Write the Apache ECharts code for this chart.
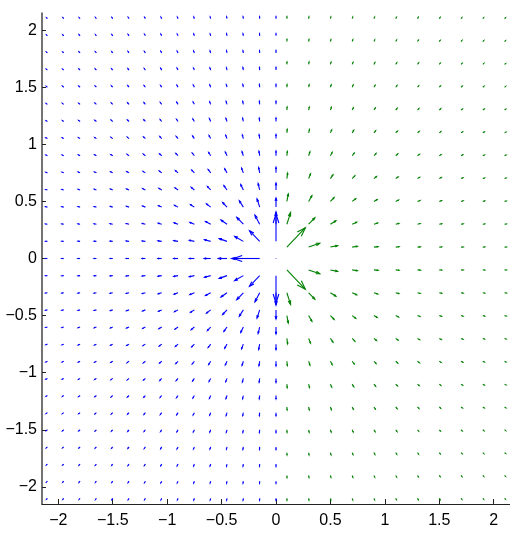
<!DOCTYPE html>
<html><head><meta charset="utf-8">
<script src="https://cdn.jsdelivr.net/npm/echarts@6/dist/echarts.min.js"></script>
<style>html,body{margin:0;padding:0;background:#fff}#c{width:510px;height:533px}</style>
</head><body><div id="c"></div>
<script>
// Tick labels
const xTicks = [-2, -1.5, -1, -0.5, 0, 0.5, 1, 1.5, 2];
const yTicks = [-2, -1.5, -1, -0.5, 0, 0.5, 1, 1.5, 2];

// Blue field: grid positions
const blueX = [-2.1,-1.95,-1.8,-1.65,-1.5,-1.35,-1.2,-1.05,-0.9,-0.75,-0.6,-0.45,-0.3,-0.15,0];
const blueY = [2.1,1.95,1.8,1.65,1.5,1.35,1.2,1.05,0.9,0.75,0.6,0.45,0.3,0.15,0,
  -0.15,-0.3,-0.45,-0.6,-0.75,-0.9,-1.05,-1.2,-1.35,-1.5,-1.65,-1.8,-1.95,-2.1];
// Blue field: x components (rows follow blueY, columns follow blueX)
const blueU = [
[-0.24,-0.24,-0.24,-0.23,-0.23,-0.22,-0.21,-0.19,-0.17,-0.15,-0.13,-0.10,-0.07,-0.03,0],
[-0.26,-0.26,-0.26,-0.25,-0.25,-0.24,-0.23,-0.21,-0.20,-0.17,-0.14,-0.11,-0.08,-0.04,0],
[-0.27,-0.28,-0.28,-0.28,-0.27,-0.27,-0.26,-0.24,-0.22,-0.20,-0.17,-0.13,-0.09,-0.05,0],
[-0.29,-0.30,-0.30,-0.30,-0.30,-0.30,-0.29,-0.27,-0.25,-0.23,-0.19,-0.15,-0.11,-0.05,0],
[-0.32,-0.32,-0.33,-0.33,-0.33,-0.33,-0.33,-0.31,-0.29,-0.27,-0.23,-0.18,-0.13,-0.07,0],
[-0.34,-0.35,-0.36,-0.36,-0.37,-0.37,-0.37,-0.36,-0.34,-0.31,-0.27,-0.22,-0.16,-0.08,0],
[-0.36,-0.37,-0.38,-0.40,-0.41,-0.41,-0.42,-0.41,-0.40,-0.37,-0.33,-0.27,-0.20,-0.10,0],
[-0.38,-0.40,-0.41,-0.43,-0.45,-0.46,-0.47,-0.48,-0.47,-0.45,-0.41,-0.34,-0.25,-0.13,0],
[-0.40,-0.42,-0.44,-0.47,-0.49,-0.51,-0.53,-0.55,-0.56,-0.55,-0.51,-0.44,-0.33,-0.18,0],
[-0.42,-0.45,-0.47,-0.50,-0.53,-0.57,-0.60,-0.63,-0.66,-0.67,-0.65,-0.59,-0.46,-0.26,0],
[-0.44,-0.47,-0.50,-0.54,-0.57,-0.62,-0.67,-0.72,-0.77,-0.81,-0.83,-0.80,-0.67,-0.39,0],
[-0.46,-0.49,-0.52,-0.56,-0.61,-0.67,-0.73,-0.80,-0.89,-0.98,-1.07,-1.11,-1.03,-0.67,0],
[-0.47,-0.50,-0.54,-0.59,-0.64,-0.71,-0.78,-0.88,-1.00,-1.15,-1.33,-1.54,-1.67,-1.20,0],
[-0.47,-0.51,-0.55,-0.60,-0.66,-0.73,-0.82,-0.93,-1.08,-1.28,-1.57,-2.00,-2.20,-2.60,0],
[-0.48,-0.51,-0.56,-0.61,-0.67,-0.74,-0.83,-0.95,-1.11,-1.33,-1.67,-2.22,-3.00,-6.67,0],
[-0.47,-0.51,-0.55,-0.60,-0.66,-0.73,-0.82,-0.93,-1.08,-1.28,-1.57,-2.00,-2.20,-2.60,0],
[-0.47,-0.50,-0.54,-0.59,-0.64,-0.71,-0.78,-0.88,-1.00,-1.15,-1.33,-1.54,-1.67,-1.20,0],
[-0.46,-0.49,-0.52,-0.56,-0.61,-0.67,-0.73,-0.80,-0.89,-0.98,-1.07,-1.11,-1.03,-0.67,0],
[-0.44,-0.47,-0.50,-0.54,-0.57,-0.62,-0.67,-0.72,-0.77,-0.81,-0.83,-0.80,-0.67,-0.39,0],
[-0.42,-0.45,-0.47,-0.50,-0.53,-0.57,-0.60,-0.63,-0.66,-0.67,-0.65,-0.59,-0.46,-0.26,0],
[-0.40,-0.42,-0.44,-0.47,-0.49,-0.51,-0.53,-0.55,-0.56,-0.55,-0.51,-0.44,-0.33,-0.18,0],
[-0.38,-0.40,-0.41,-0.43,-0.45,-0.46,-0.47,-0.48,-0.47,-0.45,-0.41,-0.34,-0.25,-0.13,0],
[-0.36,-0.37,-0.38,-0.40,-0.41,-0.41,-0.42,-0.41,-0.40,-0.37,-0.33,-0.27,-0.20,-0.10,0],
[-0.34,-0.35,-0.36,-0.36,-0.37,-0.37,-0.37,-0.36,-0.34,-0.31,-0.27,-0.22,-0.16,-0.08,0],
[-0.32,-0.32,-0.33,-0.33,-0.33,-0.33,-0.33,-0.31,-0.29,-0.27,-0.23,-0.18,-0.13,-0.07,0],
[-0.29,-0.30,-0.30,-0.30,-0.30,-0.30,-0.29,-0.27,-0.25,-0.23,-0.19,-0.15,-0.11,-0.05,0],
[-0.27,-0.28,-0.28,-0.28,-0.27,-0.27,-0.26,-0.24,-0.22,-0.20,-0.17,-0.13,-0.09,-0.05,0],
[-0.26,-0.26,-0.26,-0.25,-0.25,-0.24,-0.23,-0.21,-0.20,-0.17,-0.14,-0.11,-0.08,-0.04,0],
[-0.24,-0.24,-0.24,-0.23,-0.23,-0.22,-0.21,-0.19,-0.17,-0.15,-0.13,-0.10,-0.07,-0.03,0]
];
// Blue field: y components
const blueV = [
[0.24,0.26,0.27,0.29,0.32,0.34,0.36,0.38,0.40,0.42,0.44,0.46,0.47,0.47,0.48],
[0.24,0.26,0.28,0.30,0.32,0.35,0.37,0.40,0.42,0.45,0.47,0.49,0.50,0.51,0.51],
[0.24,0.26,0.28,0.30,0.33,0.36,0.38,0.41,0.44,0.47,0.50,0.52,0.54,0.55,0.56],
[0.23,0.25,0.28,0.30,0.33,0.36,0.40,0.43,0.47,0.50,0.54,0.56,0.59,0.60,0.61],
[0.23,0.25,0.27,0.30,0.33,0.37,0.41,0.45,0.49,0.53,0.57,0.61,0.64,0.66,0.67],
[0.22,0.24,0.27,0.30,0.33,0.37,0.41,0.46,0.51,0.57,0.62,0.67,0.71,0.73,0.74],
[0.21,0.23,0.26,0.29,0.33,0.37,0.42,0.47,0.53,0.60,0.67,0.73,0.78,0.82,0.83],
[0.19,0.21,0.24,0.27,0.31,0.36,0.41,0.48,0.55,0.63,0.72,0.80,0.88,0.93,0.95],
[0.17,0.20,0.22,0.25,0.29,0.34,0.40,0.47,0.56,0.66,0.77,0.89,1.00,1.08,1.11],
[0.15,0.17,0.20,0.23,0.27,0.31,0.37,0.45,0.55,0.67,0.81,0.98,1.15,1.28,1.33],
[0.13,0.14,0.17,0.19,0.23,0.27,0.33,0.41,0.51,0.65,0.83,1.07,1.33,1.57,1.67],
[0.10,0.11,0.13,0.15,0.18,0.22,0.27,0.34,0.44,0.59,0.80,1.11,1.54,2.00,2.22],
[0.07,0.08,0.09,0.11,0.13,0.16,0.20,0.25,0.33,0.46,0.67,1.03,1.67,2.20,3.00],
[0.03,0.04,0.05,0.05,0.07,0.08,0.10,0.13,0.18,0.26,0.39,0.67,1.20,2.60,6.67],
[0,0,0,0,0,0,0,0,0,0,0,0,0,0,0],
[-0.03,-0.04,-0.05,-0.05,-0.07,-0.08,-0.10,-0.13,-0.18,-0.26,-0.39,-0.67,-1.20,-2.60,-6.67],
[-0.07,-0.08,-0.09,-0.11,-0.13,-0.16,-0.20,-0.25,-0.33,-0.46,-0.67,-1.03,-1.67,-2.20,-3.00],
[-0.10,-0.11,-0.13,-0.15,-0.18,-0.22,-0.27,-0.34,-0.44,-0.59,-0.80,-1.11,-1.54,-2.00,-2.22],
[-0.13,-0.14,-0.17,-0.19,-0.23,-0.27,-0.33,-0.41,-0.51,-0.65,-0.83,-1.07,-1.33,-1.57,-1.67],
[-0.15,-0.17,-0.20,-0.23,-0.27,-0.31,-0.37,-0.45,-0.55,-0.67,-0.81,-0.98,-1.15,-1.28,-1.33],
[-0.17,-0.20,-0.22,-0.25,-0.29,-0.34,-0.40,-0.47,-0.56,-0.66,-0.77,-0.89,-1.00,-1.08,-1.11],
[-0.19,-0.21,-0.24,-0.27,-0.31,-0.36,-0.41,-0.48,-0.55,-0.63,-0.72,-0.80,-0.88,-0.93,-0.95],
[-0.21,-0.23,-0.26,-0.29,-0.33,-0.37,-0.42,-0.47,-0.53,-0.60,-0.67,-0.73,-0.78,-0.82,-0.83],
[-0.22,-0.24,-0.27,-0.30,-0.33,-0.37,-0.41,-0.46,-0.51,-0.57,-0.62,-0.67,-0.71,-0.73,-0.74],
[-0.23,-0.25,-0.27,-0.30,-0.33,-0.37,-0.41,-0.45,-0.49,-0.53,-0.57,-0.61,-0.64,-0.66,-0.67],
[-0.23,-0.25,-0.28,-0.30,-0.33,-0.36,-0.40,-0.43,-0.47,-0.50,-0.54,-0.56,-0.59,-0.60,-0.61],
[-0.24,-0.26,-0.28,-0.30,-0.33,-0.36,-0.38,-0.41,-0.44,-0.47,-0.50,-0.52,-0.54,-0.55,-0.56],
[-0.24,-0.26,-0.28,-0.30,-0.32,-0.35,-0.37,-0.40,-0.42,-0.45,-0.47,-0.49,-0.50,-0.51,-0.51],
[-0.24,-0.26,-0.27,-0.29,-0.32,-0.34,-0.36,-0.38,-0.40,-0.42,-0.44,-0.46,-0.47,-0.47,-0.48]
];

// Green field: grid positions
const greenX = [0.1,0.3,0.5,0.7,0.9,1.1,1.3,1.5,1.7,1.9,2.1];
const greenY = [2.1,1.9,1.7,1.5,1.3,1.1,0.9,0.7,0.5,0.3,0.1,
  -0.1,-0.3,-0.5,-0.7,-0.9,-1.1,-1.3,-1.5,-1.7,-1.9,-2.1];
// Green field: x components (rows follow greenY, columns follow greenX)
const greenU = [
[0.02,0.07,0.11,0.14,0.17,0.20,0.21,0.23,0.23,0.24,0.24],
[0.03,0.08,0.13,0.17,0.20,0.23,0.25,0.26,0.26,0.26,0.26],
[0.03,0.10,0.16,0.21,0.24,0.27,0.28,0.29,0.29,0.29,0.29],
[0.04,0.13,0.20,0.26,0.29,0.32,0.33,0.33,0.33,0.32,0.32],
[0.06,0.17,0.26,0.32,0.36,0.38,0.38,0.38,0.37,0.36,0.34],
[0.08,0.23,0.34,0.41,0.45,0.45,0.45,0.43,0.41,0.39,0.37],
[0.12,0.33,0.47,0.54,0.56,0.54,0.52,0.49,0.46,0.43,0.40],
[0.20,0.52,0.68,0.71,0.69,0.65,0.60,0.55,0.50,0.46,0.43],
[0.38,0.88,1.00,0.95,0.85,0.75,0.67,0.60,0.54,0.49,0.45],
[1.00,1.67,1.47,1.21,1.00,0.85,0.73,0.64,0.57,0.51,0.47],
[5.00,3.00,1.92,1.40,1.10,0.90,0.76,0.66,0.59,0.52,0.48],
[5.00,3.00,1.92,1.40,1.10,0.90,0.76,0.66,0.59,0.52,0.48],
[1.00,1.67,1.47,1.21,1.00,0.85,0.73,0.64,0.57,0.51,0.47],
[0.38,0.88,1.00,0.95,0.85,0.75,0.67,0.60,0.54,0.49,0.45],
[0.20,0.52,0.68,0.71,0.69,0.65,0.60,0.55,0.50,0.46,0.43],
[0.12,0.33,0.47,0.54,0.56,0.54,0.52,0.49,0.46,0.43,0.40],
[0.08,0.23,0.34,0.41,0.45,0.45,0.45,0.43,0.41,0.39,0.37],
[0.06,0.17,0.26,0.32,0.36,0.38,0.38,0.38,0.37,0.36,0.34],
[0.04,0.13,0.20,0.26,0.29,0.32,0.33,0.33,0.33,0.32,0.32],
[0.03,0.10,0.16,0.21,0.24,0.27,0.28,0.29,0.29,0.29,0.29],
[0.03,0.08,0.13,0.17,0.20,0.23,0.25,0.26,0.26,0.26,0.26],
[0.02,0.07,0.11,0.14,0.17,0.20,0.21,0.23,0.23,0.24,0.24]
];
// Green field: y components
const greenV = [
[0.48,0.47,0.45,0.43,0.40,0.37,0.34,0.32,0.29,0.26,0.24],
[0.52,0.51,0.49,0.46,0.43,0.39,0.36,0.32,0.29,0.26,0.24],
[0.59,0.57,0.54,0.50,0.46,0.41,0.37,0.33,0.29,0.26,0.23],
[0.66,0.64,0.60,0.55,0.49,0.43,0.38,0.33,0.29,0.26,0.23],
[0.76,0.73,0.67,0.60,0.52,0.45,0.38,0.33,0.28,0.25,0.21],
[0.90,0.85,0.75,0.65,0.54,0.45,0.38,0.32,0.27,0.23,0.20],
[1.10,1.00,0.85,0.69,0.56,0.45,0.36,0.29,0.24,0.20,0.17],
[1.40,1.21,0.95,0.71,0.54,0.41,0.32,0.26,0.21,0.17,0.14],
[1.92,1.47,1.00,0.68,0.47,0.34,0.26,0.20,0.16,0.13,0.11],
[3.00,1.67,0.88,0.52,0.33,0.23,0.17,0.13,0.10,0.08,0.07],
[5.00,1.00,0.38,0.20,0.12,0.08,0.06,0.04,0.03,0.03,0.02],
[-5.00,-1.00,-0.38,-0.20,-0.12,-0.08,-0.06,-0.04,-0.03,-0.03,-0.02],
[-3.00,-1.67,-0.88,-0.52,-0.33,-0.23,-0.17,-0.13,-0.10,-0.08,-0.07],
[-1.92,-1.47,-1.00,-0.68,-0.47,-0.34,-0.26,-0.20,-0.16,-0.13,-0.11],
[-1.40,-1.21,-0.95,-0.71,-0.54,-0.41,-0.32,-0.26,-0.21,-0.17,-0.14],
[-1.10,-1.00,-0.85,-0.69,-0.56,-0.45,-0.36,-0.29,-0.24,-0.20,-0.17],
[-0.90,-0.85,-0.75,-0.65,-0.54,-0.45,-0.38,-0.32,-0.27,-0.23,-0.20],
[-0.76,-0.73,-0.67,-0.60,-0.52,-0.45,-0.38,-0.33,-0.28,-0.25,-0.21],
[-0.66,-0.64,-0.60,-0.55,-0.49,-0.43,-0.38,-0.33,-0.29,-0.26,-0.23],
[-0.59,-0.57,-0.54,-0.50,-0.46,-0.41,-0.37,-0.33,-0.29,-0.26,-0.23],
[-0.52,-0.51,-0.49,-0.46,-0.43,-0.39,-0.36,-0.32,-0.29,-0.26,-0.24],
[-0.48,-0.47,-0.45,-0.43,-0.40,-0.37,-0.34,-0.32,-0.29,-0.26,-0.24]
];

function buildTable(xs, ys, U, V) {
  const out = [];
  ys.forEach((y, r) => xs.forEach((x, c) => out.push([x, y, U[r][c], V[r][c]])));
  return out;
}

function quiverRenderer(color, scale) {
  return function (params, api) {
    const x = api.value(0), y = api.value(1);
    const u = api.value(2) * scale, v = api.value(3) * scale;
    const st = { stroke: color, lineWidth: 1.1, fill: null };
    if (u === 0 && v === 0) {
      const p = api.coord([x, y]);
      return { type: 'rect', shape: { x: p[0] - 0.5, y: p[1] - 0.5, width: 1, height: 1 }, style: { fill: color, opacity: 0.6 } };
    }
    const a = 0.33, b = 0.33;
    const p0 = api.coord([x, y]);
    const p1 = api.coord([x + u, y + v]);
    const h1 = api.coord([x + u - a * (u + b * v), y + v - a * (v - b * u)]);
    const h2 = api.coord([x + u - a * (u - b * v), y + v - a * (v + b * u)]);
    return { type: 'group', children: [
      { type: 'polyline', shape: { points: [p0, p1] }, style: st },
      { type: 'polyline', shape: { points: [h1, p1, h2] }, style: st }
    ]};
  };
}

const fmt = v => (v < 0 ? '\u2212' + String(-v) : String(v));
const labelStyle = { fontFamily: 'Liberation Sans, Arial, sans-serif', fontSize: 16, color: '#000' };

const chart = echarts.init(document.getElementById('c'), null, { renderer: 'canvas' });
chart.setOption({
  animation: false,
  backgroundColor: '#fff',
  grid: { left: 42, top: 13, width: 469, height: 491, containLabel: false },
  xAxis: {
    type: 'value', min: -2.15, max: 2.15,
    axisLine: { show: true, onZero: false, lineStyle: { color: '#222', width: 1.2 } },
    axisTick: { show: true, inside: true, length: 5, customValues: xTicks, lineStyle: { color: '#222' } },
    axisLabel: Object.assign({ customValues: xTicks, margin: 9, formatter: fmt }, labelStyle),
    splitLine: { show: false }
  },
  yAxis: {
    type: 'value', min: -2.15, max: 2.15,
    axisLine: { show: true, onZero: false, lineStyle: { color: '#444', width: 1.5 } },
    axisTick: { show: true, inside: true, length: 4, customValues: yTicks, lineStyle: { color: '#222' } },
    axisLabel: Object.assign({ customValues: yTicks, margin: 5, formatter: fmt }, labelStyle),
    splitLine: { show: false }
  },
  series: [
    { type: 'custom', name: 'blue', silent: true, clip: false,
      encode: { x: 0, y: 1 },
      renderItem: quiverRenderer('#0000ff', 0.036),
      data: buildTable(blueX, blueY, blueU, blueV) },
    { type: 'custom', name: 'green', silent: true, clip: false,
      encode: { x: 0, y: 1 },
      renderItem: quiverRenderer('#008000', 0.034),
      data: buildTable(greenX, greenY, greenU, greenV) }
  ]
});
</script>
</body></html>
